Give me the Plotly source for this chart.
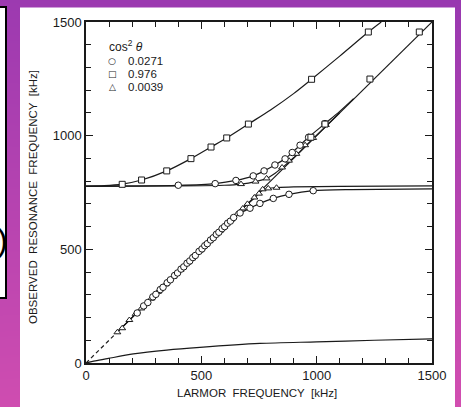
import plotly.graph_objects as go

# ---------------- data (kHz) ----------------
# open circles, cos^2(theta) = 0.0271
circ_x = [222, 250, 268, 290, 303, 322, 334, 352, 366, 384, 397, 412, 424, 438, 450, 463, 474, 490, 503,
          515, 526, 540, 552, 565, 576, 590, 601, 614, 626, 640, 668, 711, 754, 812, 880, 985,
          400, 560, 650, 725, 772, 819, 863, 894, 928, 965, 1036]
circ_y = [220, 251, 266, 291, 302, 323, 333, 353, 366, 385, 396, 413, 423, 439, 449, 464, 473, 491, 502,
          516, 525, 541, 551, 566, 575, 591, 600, 615, 624, 640, 660, 681, 702, 724, 742, 758,
          782, 789, 803, 823, 845, 871, 898, 926, 958, 993, 1053]
# open squares, cos^2(theta) = 0.976
sq_x = [157, 241, 350, 455, 542, 610, 704, 978, 1224, 975, 1036, 1231, 1445]
sq_y = [786, 805, 845, 899, 950, 990, 1051, 1248, 1456, 993, 1051, 1249, 1456]
# open triangles, cos^2(theta) = 0.0039
tri_x = [136, 157, 188, 215, 240, 282, 312, 345, 378, 410, 440, 460, 492, 535, 580, 600, 630, 655, 680,
         700, 730, 750, 766, 790, 826, 672, 735, 783, 850, 880, 912, 950, 985, 1040]
tri_y = [135, 153, 189, 216, 240, 283, 313, 346, 379, 410, 441, 460, 493, 536, 581, 600, 631, 655, 680,
         700, 728, 745, 764, 768, 771, 787, 798, 812, 860, 890, 920, 958, 990, 1047]

# fitted curves
sq_curve_x = [0, 80, 157, 241, 350, 455, 542, 610, 704, 800, 900, 978, 1100, 1224, 1280]
sq_curve_y = [778, 780, 787, 805, 845, 899, 950, 990, 1051, 1113, 1185, 1248, 1350, 1456, 1500]
circ_up_x = [0, 200, 400, 560, 650, 725, 772, 819, 863, 894, 928, 965, 1036, 1100, 1160]
circ_up_y = [777, 778, 781, 789, 803, 823, 845, 871, 898, 926, 958, 993, 1053, 1107, 1163]
circ_lo_x = [140, 600, 640, 668, 711, 754, 812, 880, 985, 1150, 1500]
circ_lo_y = [140, 600, 637, 659, 681, 702, 724, 742, 758, 763, 766]
tri_up_x = [0, 400, 600, 672, 735, 783, 820, 860, 900, 950, 1000, 1100]
tri_up_y = [778, 779, 782, 787, 798, 812, 835, 867, 903, 953, 1002, 1101]
tri_lo_x = [140, 650, 700, 735, 760, 790, 830, 900, 1100, 1500]
tri_lo_y = [140, 650, 699, 730, 757, 768, 772, 775, 777, 779]
diag_dash_x = [0, 140]
diag_dash_y = [0, 140]
diag_x = [140, 1500]
diag_y = [140, 1500]
low_x = [0, 40, 97, 205, 350, 494, 754, 1000, 1250, 1500]
low_y = [0, 9, 20, 40, 57, 69, 86, 93, 100, 106]

tick_vals = [0, 500, 1000, 1500]
legend_title = "cos<sup>2</sup> <i>θ</i>"
legend_labels = ["0.0271", "0.976", "0.0039"]
legend_syms = ["○", "□", "△"]

W, H = 461, 407
INK = "#1a1a1a"
fig = go.Figure()

# ---------- background (pixel-coordinate subplot) ----------
fig.add_trace(go.Heatmap(
    x=[0, W], y=[0, H], z=[[0.12, 0.05], [0.95, 1.0]],
    colorscale=[[0, "rgb(152,56,176)"], [1, "rgb(210,78,176)"]],
    zsmooth="best", showscale=False, hoverinfo="skip", xaxis="x", yaxis="y"))
fig.add_trace(go.Scatter(x=[20, 455, 455, 20, 20], y=[7.5, 7.5, 410, 410, 7.5], mode="lines",
                         fill="toself", fillcolor="white", line=dict(width=0),
                         hoverinfo="skip", showlegend=False, xaxis="x", yaxis="y"))
fig.add_trace(go.Scatter(x=[-5, 6, 6, -5, -5], y=[7, 7, 298, 298, 7], mode="lines",
                         fill="toself", fillcolor="white", line=dict(width=2, color="black"),
                         hoverinfo="skip", showlegend=False, xaxis="x", yaxis="y"))

# ---------- curves ----------
def curve(x, y, dash="solid", smooth=0.8):
    fig.add_trace(go.Scatter(x=x, y=y, mode="lines", line=dict(color=INK, width=1.2, dash=dash,
                             shape="spline", smoothing=smooth),
                             hoverinfo="skip", showlegend=False, xaxis="x2", yaxis="y2"))

curve(diag_dash_x, diag_dash_y, dash="4px,3px")
curve(diag_x, diag_y)
curve(sq_curve_x, sq_curve_y)
curve(circ_up_x, circ_up_y)
curve(circ_lo_x, circ_lo_y, smooth=0.7)
curve(tri_up_x, tri_up_y, smooth=0.7)
curve(tri_lo_x, tri_lo_y, smooth=0.6)
curve(low_x, low_y)

# ---------- markers ----------
def marks(x, y, sym, size):
    fig.add_trace(go.Scatter(x=x, y=y, mode="markers",
                             marker=dict(symbol=sym, size=size, color="white",
                                         line=dict(color=INK, width=1)),
                             hoverinfo="skip", showlegend=False, xaxis="x2", yaxis="y2"))

marks(tri_x, tri_y, "triangle-up", 6)
marks(circ_x, circ_y, "circle", 6.5)
marks(sq_x, sq_y, "square", 6)

# ---------- axes ----------
tfont = dict(family="Liberation Sans, Arial", size=13, color=INK)
fig.update_layout(
    width=W, height=H, margin=dict(l=0, r=0, t=0, b=0, pad=0, autoexpand=False),
    paper_bgcolor="rgb(180,66,176)", plot_bgcolor="rgba(0,0,0,0)",
    showlegend=False,
    xaxis=dict(domain=[0, 1], range=[0, W], visible=False, fixedrange=True, automargin=False),
    yaxis=dict(domain=[0, 1], range=[H, 0], visible=False, fixedrange=True, automargin=False),
    xaxis2=dict(domain=[86 / W, 432 / W], range=[0, 1500], anchor="y2", automargin=False,
                tickvals=tick_vals, ticks="inside", ticklen=7, tickwidth=1.2, tickcolor=INK,
                minor=dict(dtick=100, ticks="inside", ticklen=5, tickwidth=1, tickcolor=INK),
                showline=True, linecolor=INK, linewidth=1.5, mirror="ticks",
                showgrid=False, zeroline=False, tickfont=tfont),
    yaxis2=dict(domain=[1 - 363 / H, 1 - 22 / H], range=[0, 1500], anchor="x2", automargin=False,
                tickvals=tick_vals, ticks="inside", ticklen=7, tickwidth=1.2, tickcolor=INK,
                minor=dict(dtick=100, ticks="inside", ticklen=5, tickwidth=1, tickcolor=INK),
                showline=True, linecolor=INK, linewidth=1.5, mirror="ticks",
                showgrid=False, zeroline=False, tickfont=tfont),
)

font_lbl = dict(family="Liberation Sans, Arial", size=11.5, color=INK)
ann = [
    dict(x=257, y=393, text="LARMOR  FREQUENCY  [kHz]", font=font_lbl),
    dict(x=33, y=197, text="OBSERVED  RESONANCE  FREQUENCY  [kHz]", font=font_lbl, textangle=-90),
    dict(x=107, y=46, text=legend_title, xanchor="left",
         font=dict(family="Liberation Sans, Arial", size=12, color=INK)),
    dict(x=2, y=240, text=")", font=dict(family="Liberation Sans, Arial", size=32, color="black")),
]
for i, (s, lab) in enumerate(zip(legend_syms, legend_labels)):
    yy = 61 + 13 * i
    ann.append(dict(x=112, y=yy, text=s, font=dict(family="DejaVu Sans", size=9, color=INK)))
    ann.append(dict(x=126, y=yy, text=lab, xanchor="left",
                    font=dict(family="Liberation Sans, Arial", size=11.5, color=INK)))
for a in ann:
    a.update(xref="x", yref="y", showarrow=False)
fig.update_layout(annotations=ann)

fig.write_html("out.html")
